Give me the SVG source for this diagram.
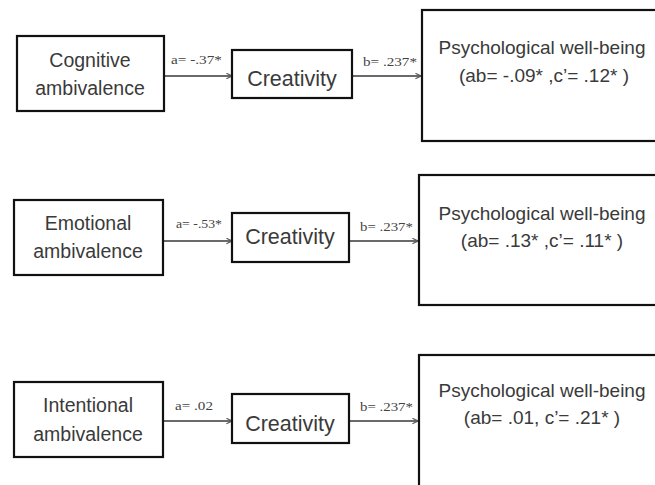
<svg xmlns="http://www.w3.org/2000/svg" width="655" height="485" viewBox="0 0 655 485">
  <defs>
    <marker id="chev" viewBox="0 0 10 10" refX="9" refY="5" markerWidth="7" markerHeight="7" markerUnits="userSpaceOnUse" orient="auto">
      <path d="M1,1 L9,5 L1,9" fill="none" stroke="#5a5a5a" stroke-width="1.6"/>
    </marker>
    <style>
      .box { fill: #ffffff; stroke: #111111; stroke-width: 2.2; }
      .txt { font-family: "Liberation Sans", Arial, sans-serif; fill: #3a3a3a; text-anchor: middle; }
      .src { font-size: 19.5px; }
      .med { font-size: 21.5px; }
      .out { font-size: 19px; }
      .lbl { font-family: "Liberation Serif", "Times New Roman", serif; font-size: 13.5px; fill: #444444; }
      .arr { stroke: #6a6a6a; stroke-width: 2.2; fill: none; marker-end: url(#chev); }
    </style>
  </defs>
  <rect width="655" height="485" fill="#ffffff"/>

  <!-- connectors: a-paths into the mediator, b-paths into the outcome -->
  <g id="connectors">
    <line class="arr" x1="164" y1="76" x2="232" y2="76"/>
    <line class="arr" x1="352" y1="76" x2="421" y2="76"/>
    <line class="arr" x1="163" y1="241" x2="232" y2="241"/>
    <line class="arr" x1="349" y1="241" x2="418" y2="241"/>
    <line class="arr" x1="163" y1="421" x2="232" y2="421"/>
    <line class="arr" x1="349" y1="421" x2="418" y2="421"/>
    <text class="lbl" x="171" y="64" textLength="51" lengthAdjust="spacingAndGlyphs">a= -.37*</text>
    <text class="lbl" x="363" y="66" textLength="54" lengthAdjust="spacingAndGlyphs">b= .237*</text>
    <text class="lbl" x="176" y="228" textLength="46" lengthAdjust="spacingAndGlyphs">a= -.53*</text>
    <text class="lbl" x="360" y="231" textLength="53" lengthAdjust="spacingAndGlyphs">b= .237*</text>
    <text class="lbl" x="175" y="410" textLength="38" lengthAdjust="spacingAndGlyphs">a= .02</text>
    <text class="lbl" x="360" y="411" textLength="53" lengthAdjust="spacingAndGlyphs">b= .237*</text>
  </g>

  <!-- row 1 -->
  <g id="cognitive">
    <rect class="box" x="17" y="36" width="147" height="75"/>
    <text class="txt src" x="90" y="67">Cognitive</text>
    <text class="txt src" x="90" y="95">ambivalence</text>
  </g>
  <g id="creativity1">
    <rect class="box" x="232" y="50" width="120" height="48"/>
    <text class="txt med" x="292" y="86">Creativity</text>
  </g>
  <g id="wellbeing1">
    <rect class="box" x="422" y="10" width="245" height="131"/>
    <text class="txt out" x="542" y="54">Psychological well-being</text>
    <text class="txt out" x="544" y="82">(ab= -.09* ,c’= .12* )</text>
  </g>

  <!-- row 2 -->
  <g id="emotional">
    <rect class="box" x="14" y="200" width="149" height="75"/>
    <text class="txt src" x="88" y="230">Emotional</text>
    <text class="txt src" x="88" y="258">ambivalence</text>
  </g>
  <g id="creativity2">
    <rect class="box" x="232" y="213" width="117" height="49"/>
    <text class="txt med" x="290" y="244">Creativity</text>
  </g>
  <g id="wellbeing2">
    <rect class="box" x="419" y="175" width="248" height="130"/>
    <text class="txt out" x="542" y="220">Psychological well-being</text>
    <text class="txt out" x="542" y="247">(ab= .13* ,c’= .11* )</text>
  </g>

  <!-- row 3 -->
  <g id="intentional">
    <rect class="box" x="14" y="382" width="149" height="75"/>
    <text class="txt src" x="88" y="412">Intentional</text>
    <text class="txt src" x="88" y="441">ambivalence</text>
  </g>
  <g id="creativity3">
    <rect class="box" x="232" y="394" width="117" height="49"/>
    <text class="txt med" x="290" y="431">Creativity</text>
  </g>
  <g id="wellbeing3">
    <rect class="box" x="419" y="355" width="248" height="145"/>
    <text class="txt out" x="542" y="397">Psychological well-being</text>
    <text class="txt out" x="542" y="424">(ab=  .01, c’= .21* )</text>
  </g>
</svg>
